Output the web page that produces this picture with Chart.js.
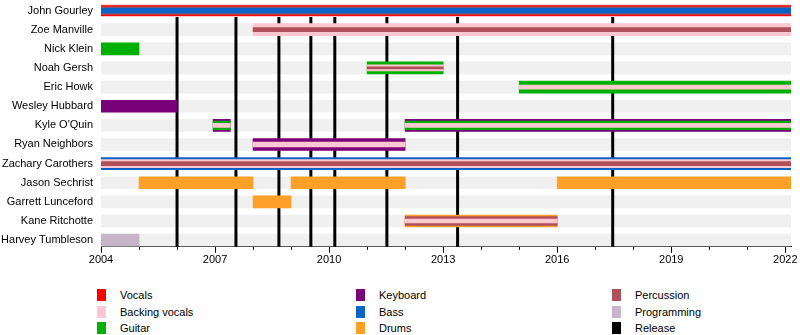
<!DOCTYPE html>
<html>
<head>
<meta charset="utf-8">
<script src="https://cdn.jsdelivr.net/npm/chart.js@4.4.0/dist/chart.umd.min.js"></script>
<style>
  body { margin: 0; background: #fff; font-family: "Liberation Sans", Arial, sans-serif; }
  #wrap { position: relative; width: 800px; height: 335px; }
  #timeline { position: absolute; left: 0; top: 0; display: block; }
  .legend { position: absolute; top: 287px; left: 97px; display: grid;
            grid-template-columns: 259px 256px 160px; grid-template-rows: repeat(3, 16.5px);
            grid-auto-flow: column; font-size: 11px; color: #000; }
  .legend div { display: flex; align-items: center; }
  .legend .box { width: 9px; height: 12px; margin-right: 14px; }
</style>
</head>
<body>
<div id="wrap">
  <canvas id="timeline" width="800" height="268"></canvas>
  <div class="legend" id="legend"></div>
</div>
<script>
// ---------- band members & roles ----------
const END = 2022.15;

const members = ['John Gourley', 'Zoe Manville', 'Nick Klein', 'Noah Gersh', 'Eric Howk',
  'Wesley Hubbard', "Kyle O'Quin", 'Ryan Neighbors', 'Zachary Carothers', 'Jason Sechrist',
  'Garrett Lunceford', 'Kane Ritchotte', 'Harvey Tumbleson'];

const years = [2004, 2007, 2010, 2013, 2016, 2019, 2022];

const vocals = [['John Gourley', 2004, END]];
const backingVocals = [['John Gourley', 2004, END], ['Zoe Manville', 2008, END], ['Noah Gersh', 2011, 2013],
  ['Eric Howk', 2015, END], ["Kyle O'Quin", 2006.95, 2007.4], ["Kyle O'Quin", 2012, END],
  ['Ryan Neighbors', 2008, 2012], ['Zachary Carothers', 2004, END], ['Kane Ritchotte', 2012, 2016]];
const guitar = [['Nick Klein', 2004, 2005], ['Noah Gersh', 2011, 2013], ['Eric Howk', 2015, END],
  ["Kyle O'Quin", 2006.95, 2007.4], ["Kyle O'Quin", 2012, END]];
const keyboard = [['Wesley Hubbard', 2004, 2006], ["Kyle O'Quin", 2006.95, 2007.4], ["Kyle O'Quin", 2012, END],
  ['Ryan Neighbors', 2008, 2012]];
const bass = [['John Gourley', 2004, END], ['Zachary Carothers', 2004, END]];
const drums = [['Jason Sechrist', 2005, 2008], ['Jason Sechrist', 2009, 2012], ['Jason Sechrist', 2016, END],
  ['Garrett Lunceford', 2008, 2009], ['Kane Ritchotte', 2012, 2016]];
const percussion = [['John Gourley', 2004, END], ['Zoe Manville', 2008, END], ['Noah Gersh', 2011, 2013],
  ['Zachary Carothers', 2004, END], ['Kane Ritchotte', 2012, 2016]];
const programming = [['Harvey Tumbleson', 2004, 2005]];

const releases = [2006.0, 2007.55, 2008.68, 2009.52, 2010.15, 2011.52, 2013.38, 2017.46];

// ---------- styling ----------
const roles = [
  ['Vocals', '#ff0000', vocals],
  ['Backing vocals', '#ffc8d0', backingVocals],
  ['Guitar', '#00b000', guitar],
  ['Keyboard', '#780078', keyboard],
  ['Bass', '#0a64c8', bass],
  ['Drums', '#ffa028', drums],
  ['Percussion', '#b0505a', percussion],
  ['Programming', '#c8b4c8', programming]
];

// stripe widths for people with several roles (outer first)
const stripes = {
  'John Gourley': { 'Backing vocals': 12, 'Vocals': 10, 'Percussion': 7.5, 'Bass': 5 },
  'Zoe Manville': { 'Backing vocals': 12, 'Percussion': 4 },
  'Noah Gersh': { 'Guitar': 12, 'Backing vocals': 6, 'Percussion': 2 },
  'Eric Howk': { 'Guitar': 12, 'Backing vocals': 4 },
  "Kyle O'Quin": { 'Keyboard': 12, 'Guitar': 8.5, 'Backing vocals': 4 },
  'Ryan Neighbors': { 'Keyboard': 12, 'Backing vocals': 5 },
  'Zachary Carothers': { 'Bass': 12, 'Backing vocals': 8, 'Percussion': 4 },
  'Kane Ritchotte': { 'Drums': 12, 'Percussion': 9, 'Backing vocals': 4 }
};

// one dataset per role + stripe width
const datasets = [{
  data: members.map((m, i) => ({ x: [2004, END], y: i })),
  backgroundColor: '#f0f0f0', barThickness: 12, order: 100, grouped: false
}];
const groups = {};
roles.forEach(([role, color, periods]) => {
  periods.forEach(([who, from, to]) => {
    const w = (stripes[who] && stripes[who][role]) || 12;
    const key = role + '|' + w;
    if (!groups[key]) {
      groups[key] = { data: [], backgroundColor: color, barThickness: w, order: w, grouped: false };
      datasets.push(groups[key]);
    }
    groups[key].data.push({ x: [from, to], y: members.indexOf(who) });
  });
});

// release markers, drawn right after the grey row bands
const releaseLines = {
  id: 'releaseLines',
  afterDatasetDraw(chart, args) {
    if (args.index !== 0) return;
    const { ctx, chartArea, scales } = chart;
    const top = scales.y.getPixelForValue(0);
    ctx.save();
    ctx.strokeStyle = '#000';
    ctx.lineWidth = 3;
    releases.forEach(r => {
      const px = scales.x.getPixelForValue(r);
      ctx.beginPath();
      ctx.moveTo(px, top);
      ctx.lineTo(px, chartArea.bottom);
      ctx.stroke();
    });
    ctx.restore();
  }
};

Chart.defaults.font.family = "'Liberation Sans', Arial, sans-serif";
Chart.defaults.font.size = 11;
Chart.defaults.color = '#000';

new Chart(document.getElementById('timeline'), {
  type: 'bar',
  data: { datasets },
  options: {
    indexAxis: 'y',
    responsive: false,
    animation: false,
    events: [],
    layout: { padding: { top: 1, right: 9, left: 0, bottom: 0 } },
    plugins: { legend: { display: false }, tooltip: { enabled: false } },
    scales: {
      y: {
        type: 'linear', reverse: true, min: -0.5, max: 12.35,
        bounds: 'data', offset: false, grace: 0,
        afterBuildTicks(s) { s.ticks = members.map((m, i) => ({ value: i })); },
        afterFit(s) { s.width = 101; s.paddingTop = 0; s.paddingBottom = 0; },
        ticks: { autoSkip: false, padding: 8, callback: v => members[v] || '' },
        grid: { display: false, drawTicks: false, offset: false },
        border: { display: false }
      },
      x: {
        type: 'linear', position: 'bottom', weight: 1, min: 2004, max: END, bounds: 'data',
        afterFit(s) { s.paddingLeft = 0; s.paddingRight = 0; },
        ticks: { stepSize: 3, includeBounds: false, autoSkip: false, maxRotation: 0, padding: 1,
                 callback: v => years.includes(v) ? String(v) : '' },
        grid: { drawOnChartArea: false, tickLength: 6, tickColor: '#000' },
        border: { color: '#000', width: 1 }
      },
      minor: {
        type: 'linear', position: 'bottom', weight: 0, min: 2004, max: END, bounds: 'data',
        afterFit(s) { s.height = 0; s.paddingLeft = 0; s.paddingRight = 0; },
        ticks: { stepSize: 1, includeBounds: false, display: false },
        grid: { drawOnChartArea: false, tickLength: 3, tickColor: '#000' },
        border: { display: false }
      }
    }
  },
  plugins: [releaseLines]
});

// legend, three columns
const legend = document.getElementById('legend');
roles.concat([['Release', '#000000']]).forEach(([role, color]) => {
  const item = document.createElement('div');
  item.innerHTML = '<span class="box" style="background:' + color + '"></span>' + role;
  legend.appendChild(item);
});
</script>
</body>
</html>
